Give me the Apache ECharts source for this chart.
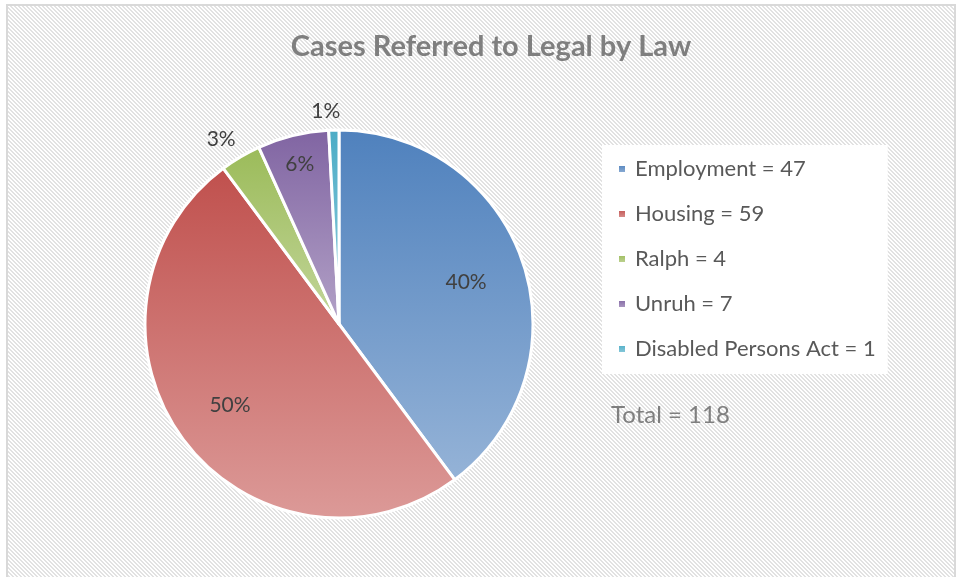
<!DOCTYPE html>
<html>
<head>
<meta charset="utf-8">
<script src="https://cdn.jsdelivr.net/npm/echarts@6/dist/echarts.min.js"></script>
<style>
  html, body { margin: 0; padding: 0; background: #fff; }
  #main { width: 958px; height: 577px; }
</style>
</head>
<body>
<div id="main"></div>
<script>
// 数据
var categories = ["Employment", "Housing", "Ralph", "Unruh", "Disabled Persons Act"];
var values = [47, 59, 4, 7, 1];
var titleText = "Cases Referred to Legal by Law";

// 颜色 (上深下浅)
var topColors = ["#4f81bd", "#c0504d", "#9bbb59", "#8064a2", "#4bacc6"];
var bottomColors = ["#95b3d7", "#dc9a98", "#c3d69b", "#b3a2c7", "#93cddd"];

// 标签位置: [半径比例, 角度偏移]
var labelPlace = [[0.69, 0], [0.70, 0], [1.13, -2], [0.85, 0], [1.10, -2]];

(function () {
  var total = values.reduce(function (a, b) { return a + b; }, 0);
  var cx = 339, cy = 324, R = 194;
  var font = "Lato, 'Open Sans', sans-serif";

  // 斜线背景
  var pat = document.createElement("canvas");
  pat.width = 4; pat.height = 4;
  var ctx = pat.getContext("2d");
  ctx.fillStyle = "#ffffff";
  ctx.fillRect(0, 0, 4, 4);
  ctx.fillStyle = "#e2e2e2";
  for (var y = 0; y < 4; y++) {
    for (var x = 0; x < 4; x++) {
      var k = ((x - y) % 4 + 4) % 4;
      if (k < 2) ctx.fillRect(x, y, 1, 1);
    }
  }

  // 每块扇区的中间角度
  var midAngles = [];
  var acc = 0;
  values.forEach(function (v) {
    midAngles.push((acc + v / 2) / total * 360);
    acc += v;
  });

  var myChart = echarts.init(document.getElementById("main"));
  var option = {
    backgroundColor: "#fff",
    animation: false,
    graphic: [
      {
        type: "rect",
        z: -10,
        shape: { x: 7, y: 5, width: 948, height: 580 },
        style: { fill: { image: pat, repeat: "repeat" }, stroke: "#d9d9d9", lineWidth: 2 }
      },
      {
        type: "text",
        left: 611,
        top: 403,
        style: {
          text: "Total = " + total,
          fill: "#7f7f7f",
          font: "24px " + font
        }
      }
    ],
    title: {
      text: titleText,
      left: 486,
      top: 27,
      textAlign: "center",
      textStyle: {
        color: "#7f7f7f",
        fontSize: 29,
        fontWeight: "bold",
        fontFamily: font
      }
    },
    legend: {
      orient: "vertical",
      left: 602,
      top: 145,
      padding: [13, 12, 14, 15],
      backgroundColor: "#ffffff",
      icon: "rect",
      itemWidth: 8,
      itemHeight: 8,
      itemGap: 23,
      data: categories,
      formatter: function (name) {
        return name + " = " + values[categories.indexOf(name)];
      },
      textStyle: {
        color: "#595959",
        fontSize: 22,
        lineHeight: 21,
        padding: [0, 0, 0, 4],
        fontFamily: font
      }
    },
    series: [
      {
        type: "pie",
        center: [cx, cy],
        radius: [0, R],
        startAngle: 90,
        clockwise: true,
        avoidLabelOverlap: false,
        itemStyle: { borderColor: "#fff", borderWidth: 3 },
        label: {
          show: true,
          position: "inside",
          align: "center",
          verticalAlign: "middle",
          color: "#404040",
          fontSize: 21,
          fontFamily: font,
          formatter: function (p) { return Math.round(p.value / total * 100) + "%"; }
        },
        labelLine: { show: false },
        labelLayout: function (params) {
          var i = params.dataIndex;
          var a = (midAngles[i] + labelPlace[i][1]) * Math.PI / 180;
          var r = R * labelPlace[i][0];
          return { x: cx + r * Math.sin(a), y: cy - r * Math.cos(a), align: "center", verticalAlign: "middle" };
        },
        emphasis: { disabled: true },
        data: categories.map(function (c, i) {
          return {
            name: c,
            value: values[i],
            itemStyle: {
              color: new echarts.graphic.LinearGradient(0, 0, 0, 1, [
                { offset: 0, color: topColors[i] },
                { offset: 1, color: bottomColors[i] }
              ])
            }
          };
        })
      }
    ]
  };
  myChart.setOption(option);
  window.addEventListener("resize", function () {
    myChart.resize();
  });
})();
</script>
</body>
</html>
